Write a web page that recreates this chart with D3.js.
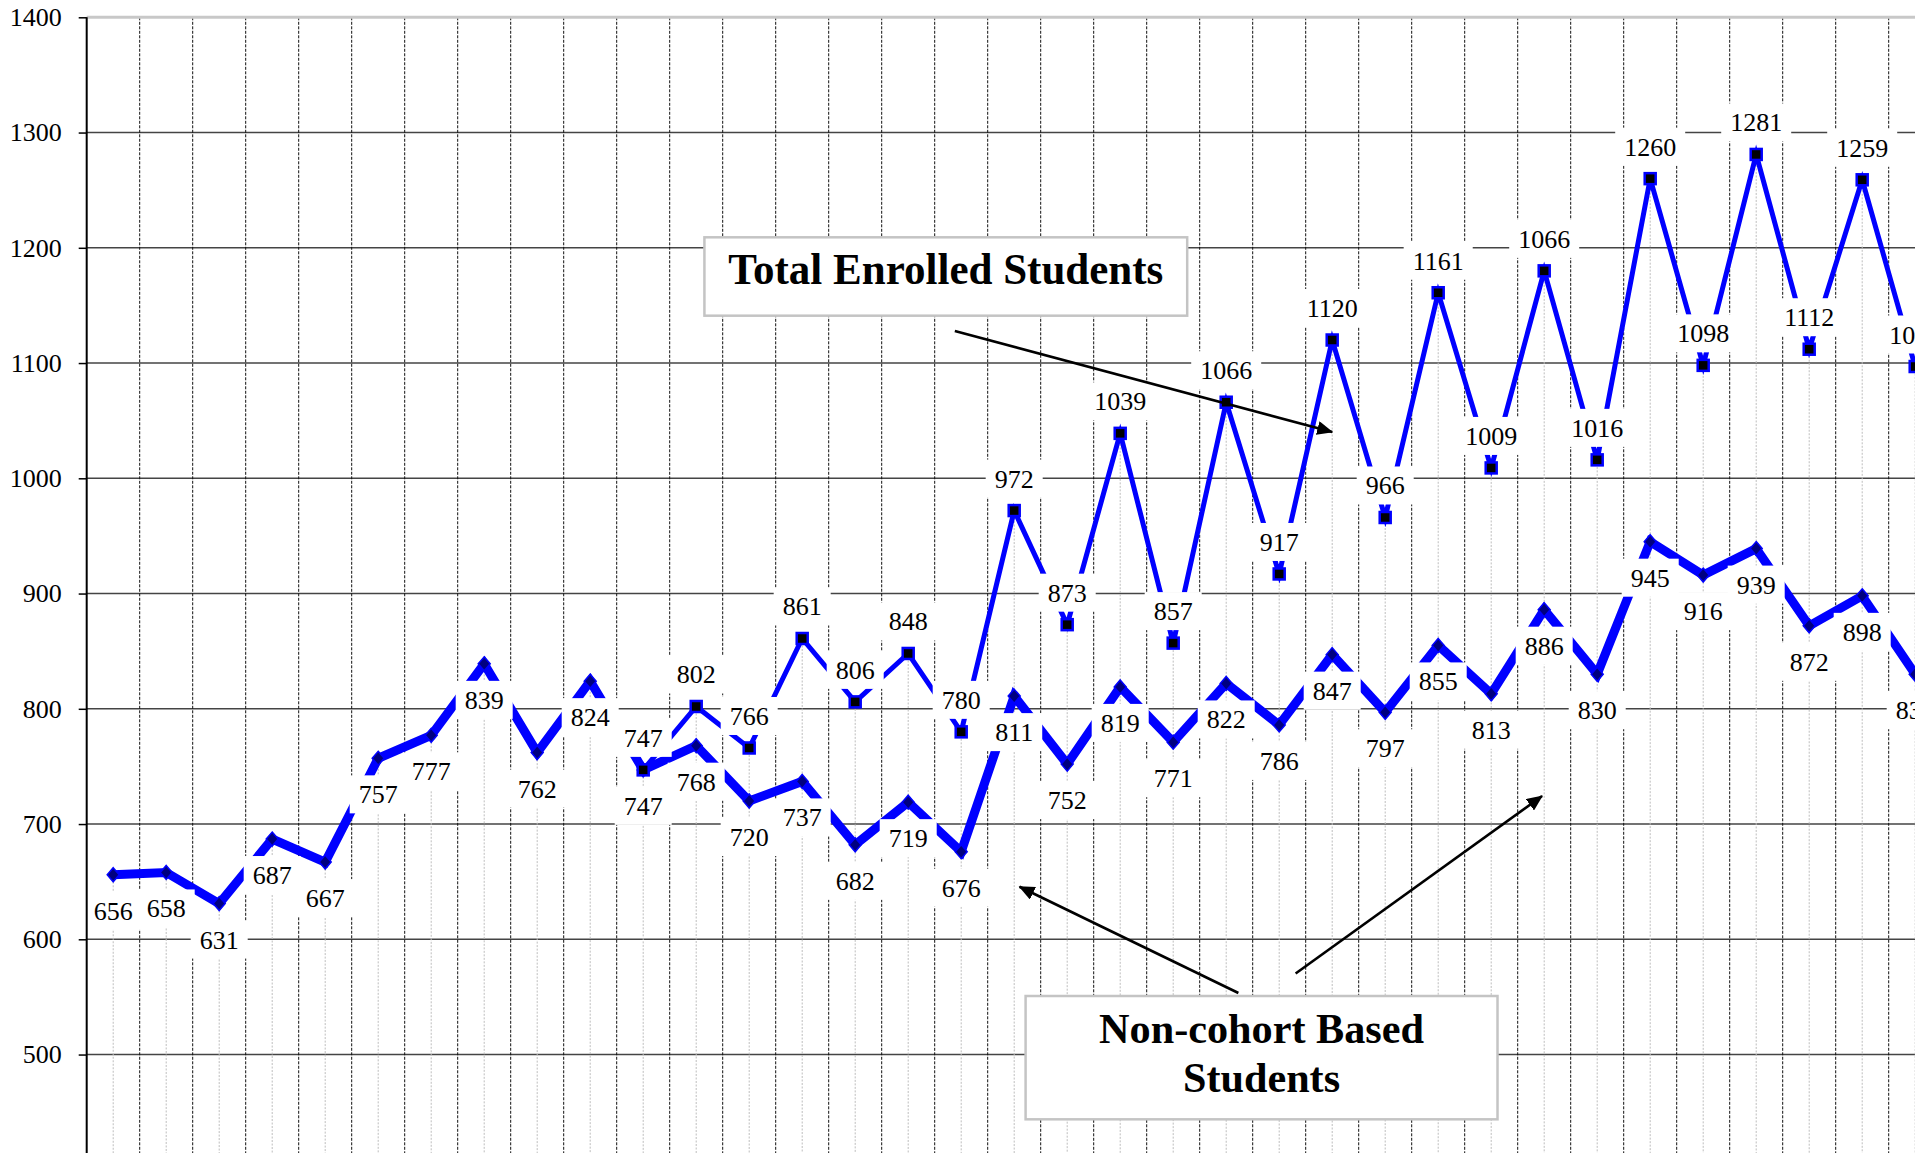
<!DOCTYPE html>
<html>
<head>
<meta charset="utf-8">
<script src="https://cdn.jsdelivr.net/npm/d3@7/dist/d3.min.js"></script>
<style>
  body { margin: 0; background: #fff; }
  text { font-family: "Liberation Serif", "Times New Roman", serif; }
</style>
</head>
<body>
<svg id="enrolChart" width="1931" height="1153"></svg>
<script>
// chart values
const periods = [1, 2, 3, 4, 5, 6, 7, 8, 9, 10, 11, 12, 13, 14, 15, 16, 17, 18,
                 19, 20, 21, 22, 23, 24, 25, 26, 27, 28, 29, 30, 31, 32, 33, 34, 35];
const nonCohort = [656, 658, 631, 687, 667, 757, 777, 839, 762, 824, 747, 768, 720, 737, 682, 719, 676, 811,
                   752, 819, 771, 822, 786, 847, 797, 855, 813, 886, 830, 945, 916, 939, 872, 898, 830];
const totalEnrolled = [null, null, null, null, null, null, null, null, null, null,
                       747, 802, 766, 861, 806, 848, 780, 972, 873, 1039, 857, 1066, 917, 1120, 966,
                       1161, 1009, 1180, 1016, 1260, 1098, 1281, 1112, 1259, 1097];
// one label in the original does not match its point
const totalLabelOverrides = { 27: "1066" };
const yTicks = [500, 600, 700, 800, 900, 1000, 1100, 1200, 1300, 1400];

const svg = d3.select("#enrolChart");
const width = +svg.attr("width");
const height = +svg.attr("height");
const plotLeft = 86.7;
const band = 53;
const plotRight = 1915; // picture is cropped here
const serif = "'Liberation Serif', 'Times New Roman', serif";

const x = d3.scaleBand()
  .domain(periods)
  .range([plotLeft, plotLeft + band * periods.length]);
const y = d3.scaleLinear()
  .domain([400, 1400])
  .range([1169.8, 17.3]);
const cx = i => x(periods[i]) + x.bandwidth() / 2;
// annotation positions are in chart units (period index, value)
const px = idx => plotLeft + (idx + 0.5) * band;

const defs = svg.append("defs");
defs.append("clipPath").attr("id", "clip")
  .append("rect").attr("x", 0).attr("y", 0).attr("width", plotRight).attr("height", height);
defs.append("marker")
  .attr("id", "arrow")
  .attr("viewBox", "0 0 16 14")
  .attr("refX", 15).attr("refY", 7)
  .attr("markerWidth", 16).attr("markerHeight", 14)
  .attr("markerUnits", "userSpaceOnUse")
  .attr("orient", "auto")
  .append("path").attr("d", "M0,0 L16,7 L0,14 Z").attr("fill", "#000");

const chart = svg.append("g").attr("clip-path", "url(#clip)");

// horizontal gridlines
chart.append("g").selectAll("line")
  .data(yTicks.filter(v => v < 1400))
  .enter().append("line")
  .attr("x1", plotLeft).attr("x2", width)
  .attr("y1", d => y(d)).attr("y2", d => y(d))
  .attr("stroke", "#444").attr("stroke-width", 1.4);

// dashed vertical lines between categories
chart.append("g").selectAll("line")
  .data(periods.slice(1))
  .enter().append("line")
  .attr("x1", d => x(d)).attr("x2", d => x(d))
  .attr("y1", y(1400)).attr("y2", height)
  .attr("stroke", "#111").attr("stroke-width", 1)
  .attr("stroke-dasharray", "3,1.5");

// top border
chart.append("line")
  .attr("x1", plotLeft).attr("x2", width)
  .attr("y1", y(1400)).attr("y2", y(1400))
  .attr("stroke", "#c8c8c8").attr("stroke-width", 3);

// drop lines from highest point
chart.append("g").selectAll("line")
  .data(periods)
  .enter().append("line")
  .attr("x1", (d, i) => cx(i)).attr("x2", (d, i) => cx(i))
  .attr("y1", (d, i) => y(Math.max(nonCohort[i], totalEnrolled[i] || 0)))
  .attr("y2", height)
  .attr("stroke", "#bdbdbd").attr("stroke-width", 1)
  .attr("stroke-dasharray", "2,1.5");

// y axis
const yAxis = svg.append("g")
  .attr("transform", `translate(${plotLeft},0)`)
  .call(d3.axisLeft(y).tickValues(yTicks).tickSize(8).tickSizeOuter(0).tickPadding(17).tickFormat(d3.format("d")));
yAxis.attr("font-family", null).attr("font-size", null);
yAxis.select(".domain").attr("d", `M0,${y(1400)}V${height}`).attr("stroke", "#000").attr("stroke-width", 2);
yAxis.selectAll(".tick line").attr("stroke", "#000").attr("stroke-width", 1.5);
yAxis.selectAll(".tick text")
  .style("font-family", serif)
  .style("font-size", "26px")
  .attr("fill", "#000");

// lines
const nonLine = d3.line()
  .x((d, i) => cx(i))
  .y(d => y(d));
const totLine = d3.line()
  .defined(d => d !== null)
  .x((d, i) => cx(i))
  .y(d => y(d));

chart.append("path")
  .attr("d", nonLine(nonCohort))
  .attr("fill", "none").attr("stroke", "#0000ff")
  .attr("stroke-width", 9).attr("stroke-linejoin", "miter");
chart.append("path")
  .attr("d", totLine(totalEnrolled))
  .attr("fill", "none").attr("stroke", "#0000ff")
  .attr("stroke-width", 5).attr("stroke-linejoin", "miter");

// markers
chart.append("g").selectAll("path")
  .data(nonCohort)
  .enter().append("path")
  .attr("transform", (d, i) => `translate(${cx(i)},${y(d)})`)
  .attr("d", "M0,-7 L6,0 L0,7 L-6,0 Z")
  .attr("fill", "#000080").attr("stroke", "#0000ff").attr("stroke-width", 1.5);
const totPts = totalEnrolled.map((v, i) => ({ v: v, i: i })).filter(d => d.v !== null);
chart.append("g").selectAll("rect")
  .data(totPts)
  .enter().append("rect")
  .attr("x", d => cx(d.i) - 5.5).attr("y", d => y(d.v) - 5.5)
  .attr("width", 11).attr("height", 11)
  .attr("fill", "#000").attr("stroke", "#0000ff").attr("stroke-width", 2.5);

// data labels with white boxes
function addLabel(g, lx, ly, txt) {
  const lg = g.append("g");
  const box = lg.append("rect").attr("fill", "#fff");
  const t = lg.append("text")
    .attr("x", lx).attr("y", ly + 9)
    .attr("text-anchor", "middle")
    .style("font-family", serif)
    .style("font-size", "26px")
    .attr("fill", "#000")
    .text(txt);
  const w = t.node().getComputedTextLength() + 18;
  box.attr("x", lx - w / 2).attr("y", ly - 19).attr("width", w).attr("height", 38);
}
const labelLayer = chart.append("g");
nonCohort.forEach((v, i) => addLabel(labelLayer, cx(i), y(v) + 36, String(v)));
totPts.forEach(d => addLabel(labelLayer, cx(d.i), y(d.v) - 32,
  totalLabelOverrides[d.i] || String(d.v)));

// annotations
const annot = svg.append("g");
function callout(x0, v0, x1, v1, lines, size, lens, baselines) {
  annot.append("rect")
    .attr("x", px(x0)).attr("y", y(v0))
    .attr("width", px(x1) - px(x0)).attr("height", y(v1) - y(v0))
    .attr("fill", "#fff").attr("stroke", "#c4c4c4").attr("stroke-width", 2.5);
  const mid = (px(x0) + px(x1)) / 2;
  lines.forEach((l, k) => {
    annot.append("text")
      .attr("x", mid).attr("y", y(baselines[k]))
      .attr("text-anchor", "middle")
      .style("font-family", serif)
      .style("font-size", size + "px")
      .attr("font-weight", "bold")
      .attr("textLength", lens[k]).attr("lengthAdjust", "spacingAndGlyphs")
      .attr("fill", "#000")
      .text(l);
  });
}
function arrow(a, b) {
  annot.append("line")
    .attr("x1", px(a[0])).attr("y1", y(a[1]))
    .attr("x2", px(b[0])).attr("y2", y(b[1]))
    .attr("stroke", "#000").attr("stroke-width", 2.6)
    .attr("marker-end", "url(#arrow)");
}
arrow([15.88, 1127.8], [23.0, 1040.2]);
arrow([21.23, 553.4], [17.1, 645.6]);
arrow([22.31, 570.3], [26.96, 724.3]);
callout(11.155, 1209.1, 20.264, 1141.1, ["Total Enrolled Students"], 45, [435], [1168.6]);
callout(17.215, 550.8, 26.119, 443.8, ["Non-cohort Based", "Students"], 42, [325, 157], [510.3, 467.8]);
</script>
</body>
</html>
